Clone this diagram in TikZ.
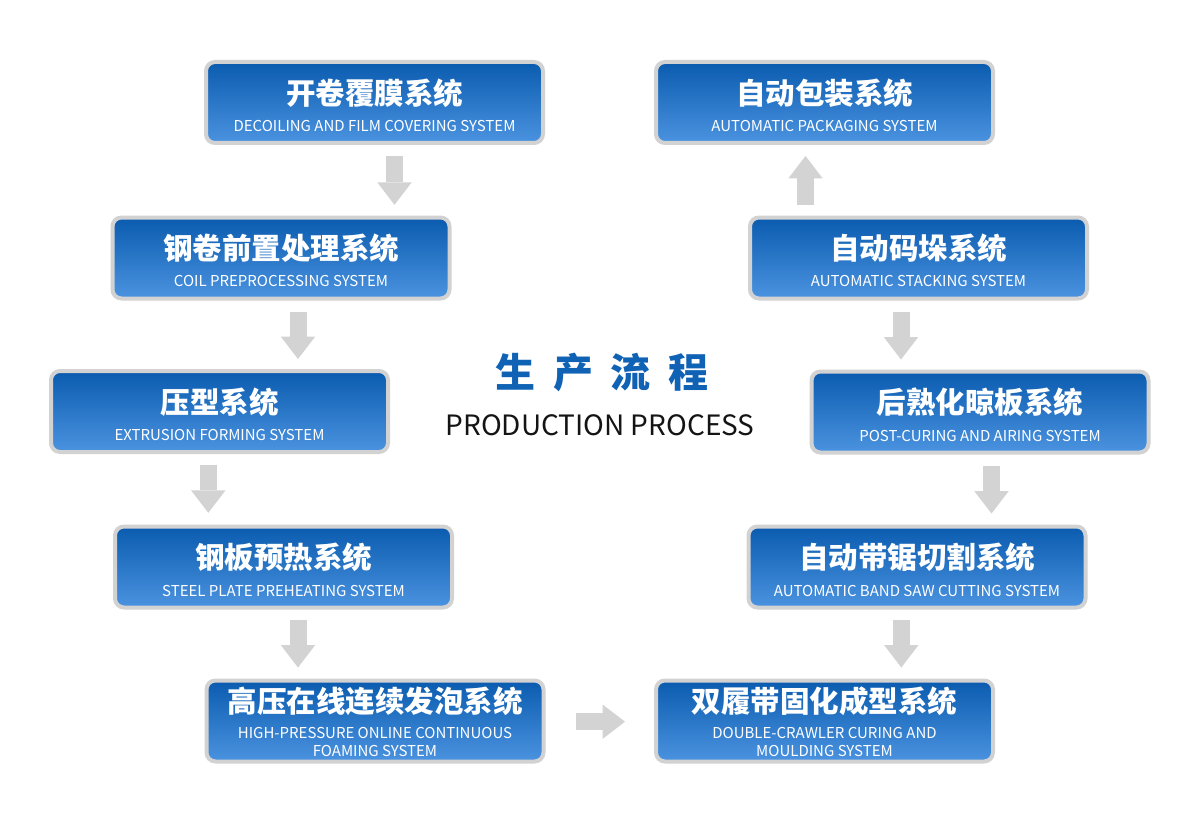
\documentclass[tikz,border=0pt]{standalone}
\usepackage{fontspec}
\newfontfamily\cjk{Noto Sans CJK SC}
\usetikzlibrary{arrows.meta}

\definecolor{boxtop}{HTML}{0A5BAF}
\definecolor{boxbot}{HTML}{4B93E0}
\definecolor{rimgray}{HTML}{D2D2D2}
\definecolor{arrowgray}{HTML}{D3D3D3}
\definecolor{titleblue}{HTML}{0F62B4}

\begin{document}
\begin{tikzpicture}[x=1pt,y=-1pt,
  stage/.style={draw=rimgray,line width=4pt,rounded corners=9pt,top color=boxtop,
    bottom color=boxbot,minimum width=337pt,minimum height=81pt,inner sep=0pt},
  zh/.style={text=white,font=\cjk\bfseries\fontsize{29.5}{34}\selectfont,inner sep=0pt},
  en/.style={text=white,font=\cjk\fontsize{15}{17.5}\selectfont,align=center,inner sep=0pt},
  flow/.style={draw=arrowgray,line width=17pt,
    -{Triangle[width=34.5pt 0 0,length=22.5pt 0 0,line width=0pt]}}]

  \useasboundingbox (0,0) rectangle (1200,824);
  \fill[white] (0,0) rectangle (1200,824);

  % left column
  \node[stage] (b1) at (374.5,102.5) {};
  \node[stage] (b2) at (281,258) {};
  \node[stage] (b3) at (219.5,411.5) {};
  \node[stage] (b4) at (283.5,567) {};
  \node[stage] (b5) at (375,721) {};
  % right column
  \node[stage] (b6) at (824.5,721) {};
  \node[stage] (b7) at (917,567) {};
  \node[stage] (b8) at (980,412) {};
  \node[stage] (b9) at (918.5,258) {};
  \node[stage] (b10) at (824.5,102.5) {};

  \node[zh] (b1zh) at ([yshift=9.5pt]b1.center) {开卷覆膜系统};
  \node[en] (b1en) at ([yshift=-23.5pt]b1.center) {DECOILING AND FILM COVERING SYSTEM};
  \node[zh] (b2zh) at ([yshift=9.5pt]b2.center) {钢卷前置处理系统};
  \node[en] (b2en) at ([yshift=-23.5pt]b2.center) {COIL PREPROCESSING SYSTEM};
  \node[zh] (b3zh) at ([yshift=9.5pt]b3.center) {压型系统};
  \node[en] (b3en) at ([yshift=-23.5pt]b3.center) {EXTRUSION FORMING SYSTEM};
  \node[zh] (b4zh) at ([yshift=9.5pt]b4.center) {钢板预热系统};
  \node[en] (b4en) at ([yshift=-23.5pt]b4.center) {STEEL PLATE PREHEATING SYSTEM};
  \node[zh] (b5zh) at ([yshift=19.7pt]b5.center) {高压在线连续发泡系统};
  \node[en] (b5en) at ([yshift=-21pt]b5.center) {HIGH-PRESSURE ONLINE CONTINUOUS\\FOAMING SYSTEM};
  \node[zh] (b6zh) at ([yshift=19.7pt]b6.center) {双履带固化成型系统};
  \node[en] (b6en) at ([yshift=-21pt]b6.center) {DOUBLE-CRAWLER CURING AND\\MOULDING SYSTEM};
  \node[zh] (b7zh) at ([yshift=9.5pt]b7.center) {自动带锯切割系统};
  \node[en] (b7en) at ([yshift=-23.5pt]b7.center) {AUTOMATIC BAND SAW CUTTING SYSTEM};
  \node[zh] (b8zh) at ([yshift=9.5pt]b8.center) {后熟化晾板系统};
  \node[en] (b8en) at ([yshift=-23.5pt]b8.center) {POST-CURING AND AIRING SYSTEM};
  \node[zh] (b9zh) at ([yshift=9.5pt]b9.center) {自动码垛系统};
  \node[en] (b9en) at ([yshift=-23.5pt]b9.center) {AUTOMATIC STACKING SYSTEM};
  \node[zh] (b10zh) at ([yshift=9.5pt]b10.center) {自动包装系统};
  \node[en] (b10en) at ([yshift=-23.5pt]b10.center) {AUTOMATIC PACKAGING SYSTEM};

  % title
  \node[font=\cjk\bfseries\fontsize{40}{44}\selectfont,text=titleblue] (title)
    at (602,372) {生\hspace{17.5pt}产\hspace{17.5pt}流\hspace{17.5pt}程};
  \node[font=\cjk\fontsize{28}{32}\selectfont,text=black!92,inner sep=0pt] (subtitle)
    at (600,425.5) {PRODUCTION PROCESS};

  % arrows
  \draw[flow] ([shift={(20,10.7)}]b1.south) -- ([shift={(113.5,-10.7)}]b2.north);
  \draw[flow] ([shift={(17,11)}]b2.south) -- ([shift={(78.5,-10)}]b3.north);
  \draw[flow] ([shift={(-11.2,10.7)}]b3.south) -- ([shift={(-75.2,-11.7)}]b4.north);
  \draw[flow] ([shift={(14.5,10)}]b4.south) -- ([shift={(-77,-11)}]b5.north);
  \draw[flow] ([shift={(30.7,0.7)}]b5.east) -- ([shift={(-29,0.7)}]b6.west);
  \draw[flow] ([shift={(-15.7,10)}]b7.south) -- ([shift={(76.8,-11)}]b6.north);
  \draw[flow] ([shift={(11.5,11)}]b8.south) -- ([shift={(74.5,-11)}]b7.north);
  \draw[flow] ([shift={(-17.5,11)}]b9.south) -- ([shift={(-79,-10)}]b8.north);
  \draw[flow] ([shift={(-113,-10.3)}]b9.north) -- ([shift={(-19,11)}]b10.south);
\end{tikzpicture}
\end{document}
